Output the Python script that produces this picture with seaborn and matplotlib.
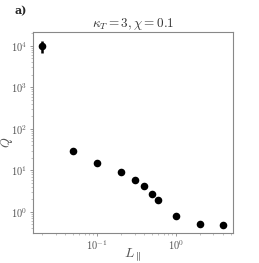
import numpy as np
import pandas as pd
import matplotlib
matplotlib.use("Agg")
import matplotlib.pyplot as plt
import seaborn as sns
from matplotlib.ticker import LogLocator, NullFormatter

L_par = [0.02, 0.05, 0.1, 0.2, 0.3, 0.4, 0.5, 0.6, 1.0, 2.0, 4.0]
Q = [10000, 29, 14.9, 9.0, 6.0, 4.2, 2.7, 1.9, 0.79, 0.51, 0.49]
Q_err = [3300, 0, 0, 0, 0, 0, 0, 0, 0, 0, 0]

sns.set_style("white")
plt.rcParams["mathtext.fontset"] = "cm"
plt.rcParams["font.family"] = ["serif"]
plt.rcParams["font.serif"] = ["cmr10", "DejaVu Serif"]
plt.rcParams["axes.formatter.use_mathtext"] = True

fig = plt.figure(figsize=(2.59, 2.63), dpi=100)
ax = fig.add_axes([0.1255, 0.114, 0.774, 0.766])

df = pd.DataFrame({"L": L_par, "Q": Q, "err": Q_err})
sns.scatterplot(data=df, x="L", y="Q", ax=ax, color="black", s=30,
                edgecolor="black", linewidth=0, zorder=3)
sub = df[df["err"] > 0]
ax.errorbar(sub["L"], sub["Q"], yerr=sub["err"], fmt="none", ecolor="black",
            elinewidth=1.8, capsize=0, zorder=2)

ax.set_xscale("log")
ax.set_yscale("log")
ax.set_xlim(0.0153, 5.3)
ax.set_ylim(0.31, 2.2e4)

ax.xaxis.set_major_locator(LogLocator(base=10))
ax.yaxis.set_major_locator(LogLocator(base=10))
ax.xaxis.set_minor_locator(LogLocator(base=10, subs=np.arange(2, 10)))
ax.yaxis.set_minor_locator(LogLocator(base=10, subs=np.arange(2, 10)))
ax.xaxis.set_minor_formatter(NullFormatter())
ax.yaxis.set_minor_formatter(NullFormatter())

for sp in ax.spines.values():
    sp.set_color("#888888")
    sp.set_linewidth(0.8)
ax.tick_params(axis="both", which="major", labelsize=7.5, labelcolor="#555555",
               color="#888888", length=2, width=0.6, pad=2, direction="out",
               bottom=True, left=True)
ax.tick_params(axis="both", which="minor", color="#aaaaaa", length=1.2,
               width=0.5, direction="out", bottom=True, left=True)

ax.set_xlabel(r"$L_{\parallel}$", fontsize=10, color="#555555")
ax.set_ylabel(r"$Q$", fontsize=9, color="#555555")
ax.xaxis.set_label_coords(0.5, -0.065)
ax.yaxis.set_label_coords(-0.085, 0.45)
ax.set_title(r"$\kappa_T = 3, \chi = 0.1$", fontsize=9.5, color="#333333", pad=2)
fig.text(0.055, 0.945, "a)", fontsize=8, fontweight="bold", family="DejaVu Serif")

fig.savefig("out.png", dpi=100)
